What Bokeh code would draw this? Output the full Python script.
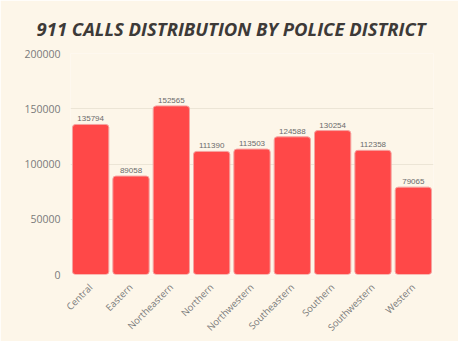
import math
from bokeh.plotting import figure
from bokeh.models import ColumnDataSource, Range1d, NumeralTickFormatter
from bokeh.embed import file_html
from bokeh.resources import INLINE

districts = ["Central", "Eastern", "Northeastern", "Northern", "Northwestern",
             "Southeastern", "Southern", "Southwestern", "Western"]
calls = [135794, 89058, 152565, 111390, 113503, 124588, 130254, 112358, 79065]
y_ticks = [0, 50000, 100000, 150000, 200000]

src = ColumnDataSource(dict(x=districts, y=calls, lab=[str(v) for v in calls]))

BG = "#fdf6e9"
p = figure(x_range=districts, y_range=Range1d(0, 200000), width=458, height=341,
           output_backend="svg", toolbar_location=None,
           title="911 CALLS DISTRIBUTION BY POLICE DISTRICT",
           min_border_left=70, min_border_right=25, min_border_top=52, min_border_bottom=64)
p.background_fill_color = BG
p.border_fill_color = BG
p.outline_line_color = None

p.title.align = "left"
p.title.offset = -34
p.title.standoff = 26
p.title.text_font = "Open Sans"
p.title.text_font_style = "bold italic"
p.title.text_font_size = "18.5px"
p.title.text_line_height = 1.0
p.title.text_color = "#3d3a38"

p.vbar(x="x", top="y", width=0.9, source=src, fill_color="#ff4848",
       line_color="#f5a3a0", line_width=1, border_radius=3)
p.text(x="x", y="y", text="lab", source=src, text_align="center",
       text_baseline="bottom", y_offset=-3, text_font_size="8px", text_color="#6b6b6b")

p.yaxis.ticker = y_ticks
p.yaxis.formatter = NumeralTickFormatter(format="0")
for ax in (p.xaxis, p.yaxis):
    ax.axis_line_color = None
    ax.major_tick_line_color = None
    ax.minor_tick_line_color = None
    ax.major_label_text_color = "#7a7a7a"
    ax.major_label_text_font = "Open Sans"
p.yaxis.major_label_text_font_size = "10.5px"
p.yaxis.major_label_standoff = 4
p.xaxis.major_label_text_font_size = "9.5px"
p.xaxis.major_label_orientation = math.pi / 4
p.xgrid.grid_line_color = None
p.ygrid.grid_line_color = "#ece5d6"
p.x_range.range_padding = 0.0
p.x_range.factor_padding = 0.0

open("out.html", "w").write(file_html(p, INLINE))
